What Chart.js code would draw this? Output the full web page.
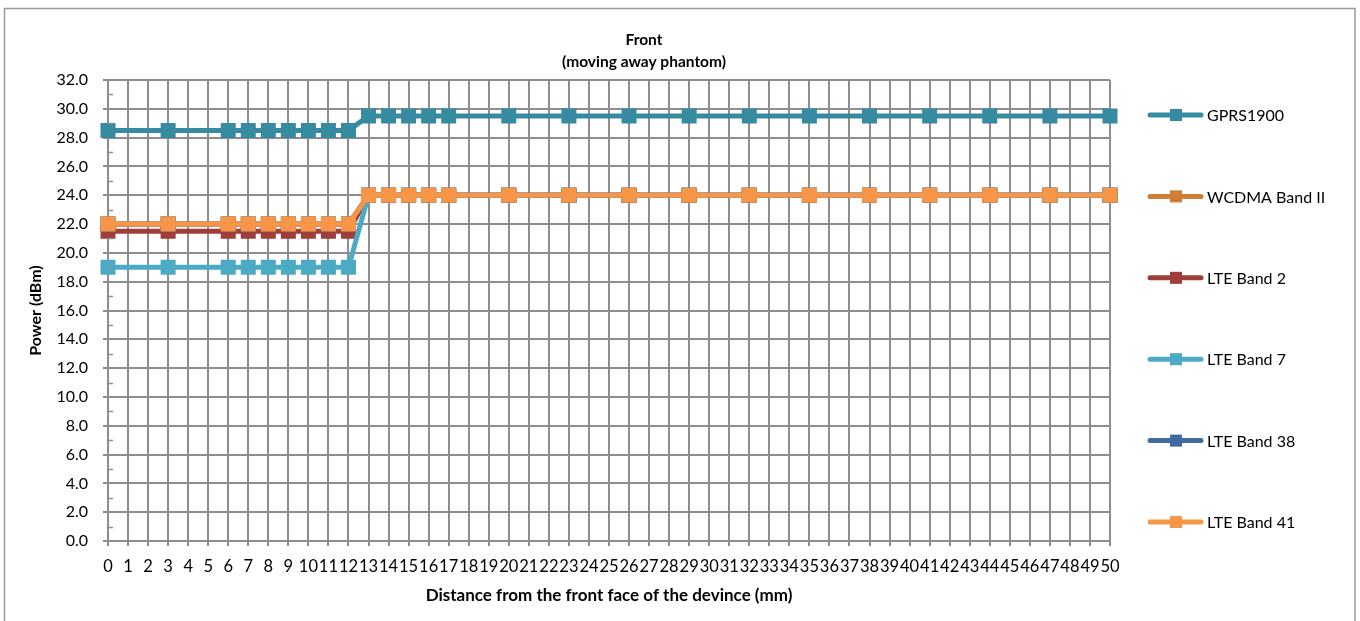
<!DOCTYPE html>
<html>
<head>
<meta charset="utf-8">
<script src="https://cdn.jsdelivr.net/npm/chart.js@4.4.1/dist/chart.umd.min.js"></script>
<style>
  html, body { margin: 0; padding: 0; background: #ffffff; }
  #wrap { width: 1360px; height: 621px; position: relative; }
</style>
</head>
<body>
<div id="wrap"><canvas id="c" width="1360" height="621"></canvas></div>
<script>
// ---- Data ----
const tickLabels = ["0","1","2","3","4","5","6","7","8","9","10","11","12","13","14","15","16","17","18","19","20","21","22","23","24","25","26","27","28","29","30","31","32","33","34","35","36","37","38","39","40","41","42","43","44","45","46","47","48","49","50"];
const distances = ["0","3","6","7","8","9","10","11","12","13","14","15","16","17","20","23","26","29","32","35","38","41","44","47","50"];

const gprs1900   = [28.5,28.5,28.5,28.5,28.5,28.5,28.5,28.5,28.5,29.5,29.5,29.5,29.5,29.5,29.5,29.5,29.5,29.5,29.5,29.5,29.5,29.5,29.5,29.5,29.5];
const wcdmaBand2 = [22,22,22,22,22,22,22,22,22,24,24,24,24,24,24,24,24,24,24,24,24,24,24,24,24];
const lteBand2   = [21.5,21.5,21.5,21.5,21.5,21.5,21.5,21.5,21.5,24,24,24,24,24,24,24,24,24,24,24,24,24,24,24,24];
const lteBand7   = [19,19,19,19,19,19,19,19,19,24,24,24,24,24,24,24,24,24,24,24,24,24,24,24,24];
const lteBand38  = [22,22,22,22,22,22,22,22,22,24,24,24,24,24,24,24,24,24,24,24,24,24,24,24,24];
const lteBand41  = [22,22,22,22,22,22,22,22,22,24,24,24,24,24,24,24,24,24,24,24,24,24,24,24,24];

const seriesNames = ["GPRS1900","WCDMA Band II","LTE Band 2","LTE Band 7","LTE Band 38","LTE Band 41"];
const seriesValues = [gprs1900, wcdmaBand2, lteBand2, lteBand7, lteBand38, lteBand41];
const seriesColors = ["#378ba1","#d07c34","#9e3d39","#4babc5","#3f6ba0","#f79646"];

const titleLines = ["Front","(moving away phantom)"];
const xTitle = "Distance from the front face of the devince (mm)";
const yTitle = "Power (dBm)";

const FONT = "Lato, 'Open Sans', sans-serif";
const GRID = "#8e8e8e";

const datasets = seriesNames.map((name, i) => ({
  label: name,
  data: distances.map((d, j) => ({ x: d, y: seriesValues[i][j] })),
  order: seriesNames.length - i,
  borderColor: seriesColors[i],
  backgroundColor: seriesColors[i],
  pointBackgroundColor: seriesColors[i],
  pointBorderColor: seriesColors[i],
  borderWidth: 5,
  pointStyle: 'rect',
  pointRadius: 10.6,
  pointHoverRadius: 10.6,
  pointBorderWidth: 0,
  tension: 0
}));

const decorPlugin = {
  id: 'decor',
  beforeDraw(chart) {
    const ctx = chart.ctx;
    ctx.save();
    ctx.fillStyle = '#ffffff';
    ctx.fillRect(0, 0, chart.width, chart.height);
    ctx.strokeStyle = '#9a9a9a';
    ctx.lineWidth = 1.5;
    ctx.strokeRect(4.5, 8.5, 1350.5, 640);
    ctx.restore();
  },
  afterDraw(chart) {
    const ctx = chart.ctx;
    const area = chart.chartArea;
    const ys = chart.scales.y;
    ctx.save();
    // minor ticks on y axis (inside)
    ctx.strokeStyle = GRID;
    ctx.lineWidth = 1.5;
    for (let v = 1; v < 32; v += 2) {
      const py = Math.round(ys.getPixelForValue(v)) + 0.5;
      ctx.beginPath();
      ctx.moveTo(area.left, py);
      ctx.lineTo(area.left + 5, py);
      ctx.stroke();
    }
    // title
    ctx.fillStyle = '#000000';
    ctx.font = "bold 15.5px " + FONT;
    ctx.textAlign = 'center';
    ctx.textBaseline = 'middle';
    ctx.fillText(titleLines[0], 644, 40);
    ctx.fillText(titleLines[1], 644, 62);
    // legend
    const legendY0 = 115, legendStep = 81.4;
    chart.data.datasets.forEach((ds, i) => {
      const y = legendY0 + i * legendStep;
      ctx.strokeStyle = ds.borderColor;
      ctx.lineWidth = 5;
      ctx.lineCap = 'round';
      ctx.beginPath();
      ctx.moveTo(1150, y);
      ctx.lineTo(1201, y);
      ctx.stroke();
      ctx.fillStyle = ds.borderColor;
      ctx.fillRect(1170, y - 6, 12, 12);
      ctx.fillStyle = '#000000';
      ctx.font = "16px " + FONT;
      ctx.textAlign = 'left';
      ctx.textBaseline = 'middle';
      ctx.fillText(ds.label, 1207, y + 1);
    });
    ctx.restore();
  }
};

new Chart(document.getElementById('c'), {
  type: 'line',
  data: { labels: tickLabels, datasets },
  plugins: [decorPlugin],
  options: {
    responsive: false,
    animation: false,
    devicePixelRatio: 1,
    layout: { padding: { left: 20, right: 250, top: 80, bottom: 15 } },
    plugins: {
      legend: { display: false },
      title: { display: false },
      tooltip: { enabled: false }
    },
    scales: {
      x: {
        type: 'category',
        offset: false,
        afterFit: (s) => { s.height = 65; },
        grid: { color: GRID, lineWidth: 2, tickLength: 5, tickColor: GRID, drawOnChartArea: true },
        border: { color: GRID, width: 2 },
        ticks: {
          autoSkip: false, maxRotation: 0, minRotation: 0, padding: 11,
          color: '#000000', font: { family: FONT, size: 16.5 }
        },
        title: {
          display: true, text: xTitle, color: '#000000',
          font: { family: FONT, size: 17, weight: 'bold' },
          padding: { top: 8, bottom: 0 }
        }
      },
      y: {
        min: 0, max: 32,
        afterFit: (s) => { s.width = 88; },
        grid: { color: GRID, lineWidth: 2, tickLength: 5, tickColor: GRID },
        border: { color: GRID, width: 2 },
        ticks: {
          stepSize: 2, padding: 15, color: '#000000',
          font: { family: FONT, size: 16 },
          callback: (v) => Number(v).toFixed(1)
        },
        title: {
          display: true, text: yTitle, color: '#000000',
          font: { family: FONT, size: 16, weight: 'bold' },
          padding: { top: 6, bottom: 4 }
        }
      }
    }
  }
});
</script>
</body>
</html>
